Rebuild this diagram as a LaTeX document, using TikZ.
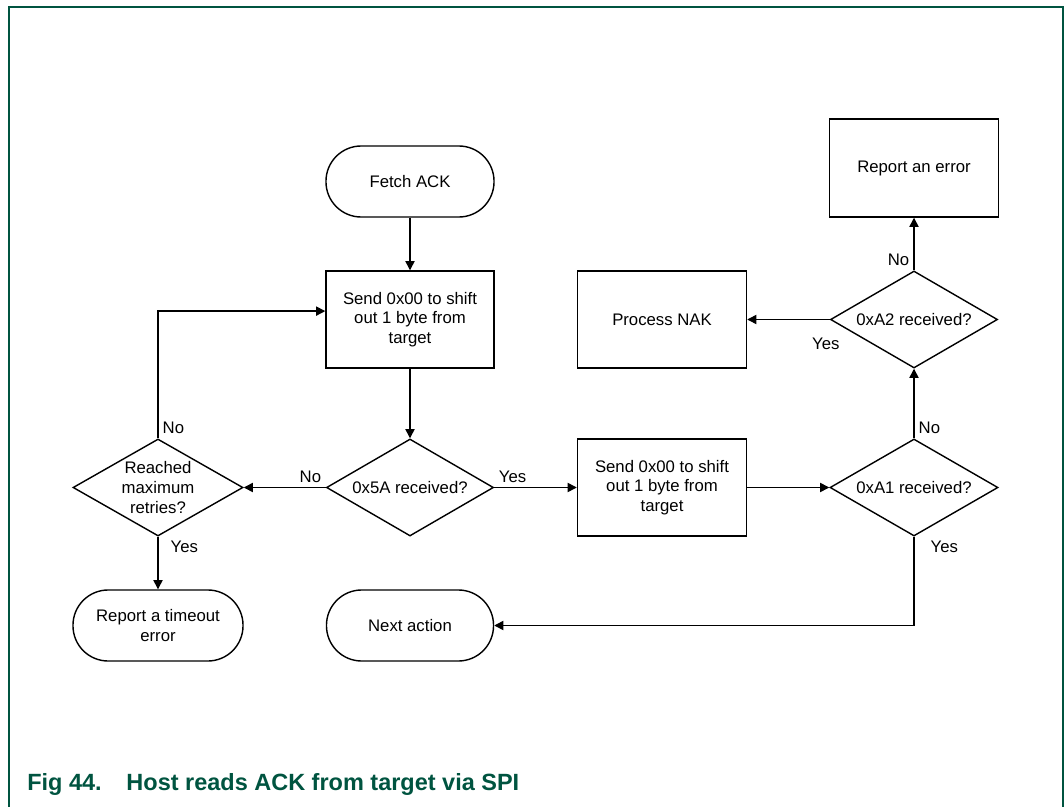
\documentclass[tikz,border=0pt]{standalone}
\usepackage{fontspec}
\setmainfont{Liberation Sans}
\usepackage{xcolor}
\definecolor{nxpgreen}{RGB}{0,84,64}
\usetikzlibrary{arrows.meta,positioning,shapes.geometric,calc}

\tikzset{
  chartfont/.style={font=\fontsize{11.9}{13.9}\selectfont, text=black, align=center},
  termnode/.style={chartfont, draw=black, line width=1pt, rounded corners=0.88cm, minimum width=4.2cm, minimum height=1.775cm, inner sep=0pt},
  boxnode/.style={chartfont, draw=black, line width=1pt, minimum width=4.2cm, minimum height=2.425cm, inner sep=0pt},
  decnode/.style={chartfont, draw=black, line width=1pt, diamond, aspect=1.75, minimum width=4.175cm, minimum height=2.425cm, inner sep=0pt},
  arr/.style={-{Triangle[length=6.5pt,width=6.5pt]}, line width=1pt, black},
  lbl/.style={chartfont, inner sep=0.1cm},
}

\begin{document}
\begin{tikzpicture}[x=0.025cm, y=-0.025cm]
  \useasboundingbox (0,0) rectangle (1064,807);
  % Frame
  \draw[nxpgreen, line width=1.5pt] (9,807) -- (9,7) -- (1063,7) -- (1063,807);

  % Main column
  \node[termnode] (fetch) at (410,181.5) {Fetch ACK};
  \node[boxnode, minimum width=4.2cm] (send1) at (410,319.5) {Send 0x00 to shift\\out 1 byte from\\target};
  \node[decnode] (d5a) at (410,487.5) {0x5A received?};
  \node[termnode, minimum width=4.175cm] (next) at (410,625.5) {Next action};

  % Retry column
  \node[decnode, minimum width=4.25cm] (reached) at (158,487.5) {Reached\\maximum\\retries?};
  \node[termnode, minimum width=4.25cm] (timeout) at (158,625.5) {Report a timeout\\error};

  % Second byte
  \node[boxnode, minimum width=4.225cm] (send2) at (662,487.5) {Send 0x00 to shift\\out 1 byte from\\target};
  \node[decnode, minimum width=4.2cm] (da1) at (914,487.5) {0xA1 received?};

  % NAK / error branch
  \node[decnode] (da2) at (914,319.5) {0xA2 received?};
  \node[boxnode, minimum width=4.225cm] (nak) at (662,319.5) {Process NAK};
  \node[boxnode, minimum width=4.225cm, minimum height=2.45cm] (reperr) at (914,168) {Report an error};

  % Connectors
  \draw[arr] (fetch) -- (send1);
  \draw[arr] (send1) -- (d5a);
  \draw[arr] (d5a.west) -- node[lbl, pos=0, above left] {No} (reached.east);
  \draw[arr] (reached.north) |- node[lbl, pos=0, above right] {No} ([yshift=0.21cm]send1.west);
  \draw[arr] (reached.south) -- node[lbl, pos=0, below right, xshift=0.2cm] {Yes} (timeout.north);
  \draw[arr] (d5a.east) -- node[lbl, pos=0, above right] {Yes} (send2.west);
  \draw[arr] (send2.east) -- (da1.west);
  \draw[arr] (da1.north) -- node[lbl, pos=0, above right] {No} (da2.south);
  \draw[arr] (da1.south) |- node[lbl, pos=0, below right, xshift=0.3cm] {Yes} (next.east);
  \draw[arr] (da2.north) -- node[lbl, pos=0, above left] {No} (reperr.south);
  \draw[arr] (da2.west) -- node[lbl, pos=0, below=0.35cm, xshift=-0.1cm] {Yes} (nak.east);

  % Caption
  \node[font=\fontsize{16.7}{19}\selectfont\bfseries, text=nxpgreen, anchor=base west, inner sep=0pt] (caption) at (27,790) {Fig 44.\hspace{0.62cm}Host reads ACK from target via SPI};
\end{tikzpicture}
\end{document}
